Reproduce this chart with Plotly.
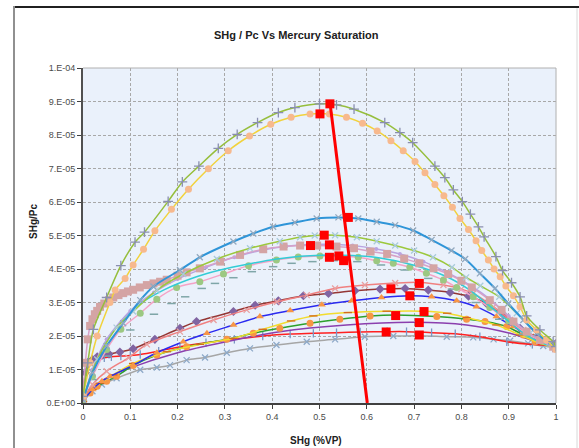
import numpy as np
import plotly.graph_objects as go

# ---------------- data (y in units of 1E-05) ----------------
UNIT = 1e-5

c1_x = [0, 0.01, 0.022, 0.05, 0.08, 0.11, 0.13, 0.18, 0.21, 0.245, 0.286, 0.326, 0.369, 0.413, 0.448, 0.5, 0.536, 0.573, 0.638, 0.67, 0.697, 0.744, 0.765, 0.783, 0.802, 0.819, 0.836, 0.848, 0.873, 0.887, 0.906, 0.924, 0.938, 0.966, 0.994, 1.0]
c1_y = [0.2, 1.2, 2.2, 3.15, 4.1, 4.8, 5.1, 6.02, 6.6, 7.07, 7.6, 8.02, 8.37, 8.67, 8.82, 8.93, 8.9, 8.77, 8.37, 8.07, 7.77, 7.07, 6.73, 6.36, 6.01, 5.64, 5.26, 4.96, 4.37, 3.95, 3.59, 3.17, 2.6, 2.18, 1.83, 1.68]

c2_x = [0, 0.015, 0.03, 0.057, 0.068, 0.089, 0.106, 0.128, 0.152, 0.187, 0.223, 0.265, 0.307, 0.352, 0.397, 0.44, 0.48, 0.521, 0.557, 0.591, 0.622, 0.651, 0.677, 0.702, 0.723, 0.744, 0.763, 0.781, 0.797, 0.815, 0.831, 0.843, 0.857, 0.869, 0.882, 0.894, 0.91, 0.924, 0.938, 0.959, 0.98, 1.0]
c2_y = [0.2, 1.2, 2.0, 3.0, 3.37, 3.72, 4.12, 4.59, 5.14, 5.78, 6.38, 6.99, 7.53, 7.97, 8.32, 8.53, 8.63, 8.63, 8.53, 8.35, 8.12, 7.83, 7.53, 7.21, 6.87, 6.52, 6.19, 5.84, 5.51, 5.18, 4.84, 4.55, 4.27, 4.0, 3.77, 3.49, 3.2, 2.87, 2.48, 2.18, 1.88, 1.6]

c3_x = [0, 0.02, 0.05, 0.085, 0.121, 0.149, 0.205, 0.247, 0.318, 0.36, 0.402, 0.448, 0.494, 0.54, 0.582, 0.621, 0.66, 0.698, 0.737, 0.779, 0.808, 0.839, 0.871, 0.899, 0.931, 0.959, 0.987, 1.0]
c3_y = [0.1, 0.9, 1.7, 2.38, 3.07, 3.48, 3.97, 4.35, 4.82, 5.06, 5.26, 5.39, 5.51, 5.54, 5.51, 5.41, 5.31, 5.15, 4.87, 4.55, 4.3, 3.87, 3.42, 2.97, 2.48, 2.08, 1.78, 1.68]

c4_x = [0, 0.03, 0.071, 0.106, 0.156, 0.212, 0.283, 0.353, 0.416, 0.459, 0.49, 0.533, 0.579, 0.621, 0.66, 0.7, 0.74, 0.78, 0.81, 0.84, 0.88, 0.917, 0.952, 0.987, 1.0]
c4_y = [0.1, 1.3, 2.25, 2.73, 3.37, 3.85, 4.3, 4.62, 4.83, 4.95, 5.0, 5.01, 4.95, 4.83, 4.7, 4.55, 4.35, 4.05, 3.75, 3.5, 3.17, 2.68, 2.18, 1.78, 1.65]

c5_x = [0, 0.005, 0.01, 0.015, 0.02, 0.025, 0.03, 0.036, 0.045, 0.055, 0.064, 0.075, 0.085, 0.095, 0.106, 0.12, 0.135, 0.149, 0.163, 0.177, 0.2, 0.219, 0.247, 0.29, 0.332, 0.381, 0.424, 0.459, 0.495, 0.536, 0.573, 0.608, 0.643, 0.679, 0.711, 0.741, 0.772, 0.8, 0.822, 0.86, 0.885, 0.91, 0.938, 0.966, 0.994, 1.0]
c5_y = [0.2, 1.2, 1.9, 2.3, 2.5, 2.65, 2.75, 2.87, 2.97, 3.07, 3.15, 3.22, 3.28, 3.33, 3.38, 3.45, 3.52, 3.57, 3.62, 3.68, 3.8, 3.9, 4.02, 4.22, 4.42, 4.59, 4.67, 4.7, 4.7, 4.67, 4.62, 4.52, 4.45, 4.31, 4.17, 4.02, 3.85, 3.65, 3.45, 3.07, 2.78, 2.43, 2.13, 1.88, 1.68, 1.63]

c5b_x = [0, 0.02, 0.05, 0.1, 0.15, 0.2, 0.26, 0.32, 0.38, 0.43, 0.48, 0.52, 0.57, 0.62, 0.67, 0.72, 0.77, 0.82, 0.86, 0.9, 0.94, 0.97, 1.0]
c5b_y = [0.1, 1.0, 1.9, 2.75, 3.3, 3.7, 4.05, 4.35, 4.57, 4.68, 4.73, 4.74, 4.7, 4.6, 4.45, 4.22, 3.9, 3.5, 3.1, 2.6, 2.1, 1.85, 1.63]

c6_x = [0, 0.02, 0.04, 0.071, 0.113, 0.17, 0.24, 0.29, 0.35, 0.41, 0.46, 0.52, 0.57, 0.628, 0.698, 0.769, 0.818, 0.853, 0.89, 0.93, 0.96, 1.0]
c6_y = [0.1, 0.9, 1.6, 2.28, 2.88, 3.37, 3.77, 3.97, 4.15, 4.3, 4.38, 4.42, 4.4, 4.33, 4.12, 3.77, 3.37, 2.97, 2.55, 2.1, 1.85, 1.65]

c7_x = [0, 0.02, 0.05, 0.08, 0.121, 0.156, 0.198, 0.247, 0.297, 0.35, 0.409, 0.455, 0.501, 0.543, 0.582, 0.621, 0.656, 0.691, 0.726, 0.762, 0.79, 0.825, 0.86, 0.9, 0.94, 0.97, 1.0]
c7_y = [0.1, 0.8, 1.6, 2.2, 2.68, 3.1, 3.45, 3.62, 3.85, 4.1, 4.27, 4.36, 4.39, 4.38, 4.35, 4.25, 4.17, 4.05, 3.87, 3.67, 3.45, 3.17, 2.85, 2.45, 2.05, 1.85, 1.68]

c8_x = [0.02, 0.05, 0.1, 0.15, 0.187, 0.216, 0.251, 0.279, 0.318, 0.357, 0.402, 0.441, 0.485, 0.53, 0.58, 0.63, 0.68, 0.73, 0.78, 0.83, 0.88, 0.93, 0.97]
c8_y = [0.7, 1.4, 2.18, 2.65, 2.97, 3.17, 3.42, 3.57, 3.74, 3.92, 4.07, 4.17, 4.22, 4.25, 4.22, 4.12, 3.97, 3.72, 3.4, 3.0, 2.5, 2.05, 1.8]

c9_x = [0, 0.02, 0.05, 0.096, 0.135, 0.205, 0.276, 0.346, 0.41, 0.473, 0.533, 0.596, 0.66, 0.712, 0.762, 0.8, 0.825, 0.868, 0.903, 0.931, 0.966, 1.0]
c9_y = [0.1, 0.55, 0.95, 1.35, 1.75, 2.13, 2.48, 2.78, 3.02, 3.22, 3.42, 3.52, 3.58, 3.6, 3.52, 3.4, 3.27, 2.87, 2.48, 2.18, 1.88, 1.7]

c10_x = [0, 0.005, 0.01, 0.02, 0.03, 0.04, 0.055, 0.078, 0.106, 0.152, 0.205, 0.24, 0.318, 0.364, 0.413, 0.466, 0.519, 0.575, 0.628, 0.681, 0.73, 0.776, 0.815, 0.853, 0.889, 0.924, 0.959, 1.0]
c10_y = [0.3, 0.9, 1.15, 1.3, 1.38, 1.42, 1.46, 1.52, 1.62, 1.9, 2.23, 2.43, 2.73, 2.92, 3.05, 3.2, 3.27, 3.35, 3.4, 3.42, 3.37, 3.3, 3.19, 2.97, 2.63, 2.23, 1.98, 1.78]

c11_x = [0, 0.02, 0.04, 0.057, 0.106, 0.156, 0.212, 0.262, 0.318, 0.374, 0.438, 0.505, 0.568, 0.631, 0.691, 0.737, 0.79, 0.832, 0.874, 0.91, 0.952, 0.98, 1.0]
c11_y = [0.05, 0.4, 0.65, 0.79, 1.13, 1.5, 1.83, 2.08, 2.33, 2.58, 2.76, 2.93, 3.05, 3.15, 3.2, 3.17, 3.05, 2.87, 2.58, 2.28, 1.98, 1.83, 1.75]

c12_x = [0, 0.02, 0.036, 0.064, 0.106, 0.177, 0.247, 0.318, 0.38, 0.44, 0.487, 0.56, 0.642, 0.72, 0.77, 0.811, 0.874, 0.924, 0.966, 1.0]
c12_y = [0.05, 0.4, 0.59, 0.84, 1.18, 1.53, 1.75, 1.93, 2.2, 2.45, 2.6, 2.7, 2.74, 2.74, 2.68, 2.55, 2.33, 2.03, 1.78, 1.65]

c13_x = [0, 0.015, 0.03, 0.05, 0.071, 0.106, 0.156, 0.219, 0.304, 0.36, 0.416, 0.48, 0.543, 0.607, 0.661, 0.748, 0.811, 0.85, 0.896, 0.931, 0.956, 1.0]
c13_y = [0.05, 0.3, 0.5, 0.65, 0.8, 1.12, 1.43, 1.68, 1.9, 2.08, 2.23, 2.38, 2.5, 2.6, 2.63, 2.58, 2.5, 2.43, 2.28, 2.03, 1.83, 1.68]

c14_x = [0, 0.02, 0.05, 0.1, 0.2, 0.3, 0.416, 0.557, 0.698, 0.811, 0.903, 0.966, 1.0]
c14_y = [0.05, 0.45, 0.75, 1.05, 1.5, 1.82, 2.13, 2.33, 2.41, 2.33, 2.08, 1.8, 1.75]

c15_x = [0, 0.005, 0.01, 0.02, 0.03, 0.045, 0.06, 0.08, 0.1, 0.121, 0.16, 0.205, 0.26, 0.32, 0.38, 0.438, 0.487, 0.536, 0.586, 0.643, 0.684, 0.737, 0.787, 0.839, 0.896, 0.95, 1.0]
c15_y = [0.2, 0.8, 1.05, 1.22, 1.3, 1.35, 1.38, 1.4, 1.42, 1.45, 1.55, 1.68, 1.8, 1.9, 2.0, 2.06, 2.08, 2.1, 2.12, 2.13, 2.13, 2.1, 2.07, 1.98, 1.83, 1.75, 1.72]

c16_x = [0, 0.02, 0.04, 0.071, 0.121, 0.156, 0.184, 0.219, 0.258, 0.304, 0.353, 0.409, 0.473, 0.533, 0.596, 0.656, 0.711, 0.769, 0.825, 0.868, 0.903, 0.941, 0.973, 1.0]
c16_y = [0.05, 0.35, 0.55, 0.74, 0.99, 1.06, 1.13, 1.28, 1.36, 1.5, 1.63, 1.73, 1.83, 1.9, 1.98, 2.0, 2.01, 1.98, 1.96, 1.9, 1.86, 1.78, 1.7, 1.65]

peak_x = [0.501, 0.522, 0.561, 0.510, 0.481, 0.521, 0.521, 0.541, 0.551, 0.711, 0.651, 0.691, 0.721, 0.661, 0.711, 0.641, 0.711]
peak_y = [8.63, 8.93, 5.54, 5.01, 4.70, 4.72, 4.35, 4.39, 4.25, 3.57, 3.41, 3.20, 2.73, 2.61, 2.40, 2.12, 2.03]

trend_x = [0.522, 0.601]
trend_y = [8.98, 0.0]

x_ticks = [0, 0.1, 0.2, 0.3, 0.4, 0.5, 0.6, 0.7, 0.8, 0.9, 1]
x_tick_text = ["0", "0.1", "0.2", "0.3", "0.4", "0.5", "0.6", "0.7", "0.8", "0.9", "1"]
y_ticks = [0, 1, 2, 3, 4, 5, 6, 7, 8, 9, 10]
y_tick_text = ["0.E+00", "1.E-05", "2.E-05", "3.E-05", "4.E-05", "5.E-05",
               "6.E-05", "7.E-05", "8.E-05", "9.E-05", "1.E-04"]

# ---------------- figure ----------------
W, H = 579, 448
L, R, T, B = 83, 23, 68, 45
PW, PH = W - L - R, H - T - B


def px(x):
    return (x - L) / PW


def py(y):
    return (H - B - y) / PH


fig = go.Figure()


def curve(xs, ys, lc, mc=None, sym=None, ms=6, lw=1.5, thin=False, mode="lines+markers"):
    yy = np.array(ys) * UNIT
    marker = dict(size=ms, color=mc)
    if sym is not None:
        marker["symbol"] = sym
    if thin:
        marker["line"] = dict(color=mc, width=1.3)
    if sym is None:
        mode = "lines"
    fig.add_trace(go.Scatter(x=xs, y=yy, mode=mode,
                             line=dict(color=lc, width=lw, shape="spline", smoothing=0.8),
                             marker=marker, showlegend=False, hoverinfo="skip"))


curve(c16_x, c16_y, "#A6A6A6", "#8EA9C8", "x-thin", 6, thin=True)
curve(c15_x, c15_y, "#FF2020", "#7A96C4", "line-ns", 6, thin=True)
curve(c14_x, c14_y, "#8B3FAE")
curve(c13_x, c13_y, "#2CA02C", "#F79646", "circle", 7)
curve(c12_x, c12_y, "#F2DC2E", "#D2691E", "line-ew", 6, thin=True)
curve(c11_x, c11_y, "#2A2AF0", "#F79646", "triangle-up", 7)
curve(c10_x, c10_y, "#943634", "#8064A2", "diamond", 7)
curve(c9_x, c9_y, "#F08080", "#E8A0A0", "x-thin", 6, thin=True)
fig.add_trace(go.Scatter(x=c8_x, y=np.array(c8_y) * UNIT, mode="markers",
                         marker=dict(symbol="line-ew", size=6, color="#7FA6A8",
                                     line=dict(color="#7FA6A8", width=1.5)),
                         showlegend=False, hoverinfo="skip"))
curve(c7_x, c7_y, "#F4A3C6", "#9CC882", "circle", 7)
curve(c6_x, c6_y, "#33CCD6")
curve(c5b_x, c5b_y, "#B9A3E0", "#B9A3E0", "circle", 4)
curve(c5_x, c5_y, "#D7A1C8", "#D4A4A4", "square", 8)
curve(c4_x, c4_y, "#9CC83C", "#A9CBDB", "x-thin", 6, thin=True)
curve(c3_x, c3_y, "#2F95D8", "#93A9BF", "x-thin", 6, lw=2, thin=True)
curve(c2_x, c2_y, "#F1D23C", "#F7B98E", "circle", 7)
curve(c1_x, c1_y, "#96BE3C", "#8A8FB0", "cross-thin", 7, thin=True)

fig.add_trace(go.Scatter(x=trend_x, y=np.array(trend_y) * UNIT, mode="lines",
                         line=dict(color="#FF0000", width=3),
                         showlegend=False, hoverinfo="skip"))
fig.add_trace(go.Scatter(x=peak_x, y=np.array(peak_y) * UNIT, mode="markers",
                         marker=dict(symbol="square", size=9, color="#FF0000"),
                         showlegend=False, hoverinfo="skip"))

tick_font = dict(family="Liberation Sans, Arial", size=9, color="#4A4A4A")

fig.update_xaxes(range=[0, 1], tickvals=x_ticks, ticktext=x_tick_text,
                 showgrid=True, gridcolor="#A8A8A8", griddash="3px,2px", gridwidth=1,
                 showline=True, linecolor="#404040", linewidth=2,
                 ticks="outside", ticklen=4, tickcolor="#404040",
                 tickfont=tick_font, zeroline=False, fixedrange=True)
fig.update_yaxes(range=[0, 10 * UNIT], tickvals=np.array(y_ticks) * UNIT, ticktext=y_tick_text,
                 showgrid=True, gridcolor="#A8A8A8", griddash="3px,2px", gridwidth=1,
                 showline=True, linecolor="#505050", linewidth=2,
                 ticks="outside", ticklen=4, tickcolor="#404040",
                 tickfont=tick_font, zeroline=False, fixedrange=True)

shapes = [
    dict(type="line", xref="paper", yref="paper", x0=0, x1=1, y0=1, y1=1,
         line=dict(color="#B0B0B0", width=1)),
    dict(type="line", xref="paper", yref="paper", x0=1, x1=1, y0=0, y1=1,
         line=dict(color="#B0B0B0", width=1)),
    dict(type="line", xref="paper", yref="paper", x0=px(14), x1=px(579), y0=py(7), y1=py(7),
         line=dict(color="#202020", width=2)),
    dict(type="line", xref="paper", yref="paper", x0=px(14), x1=px(14), y0=py(6), y1=py(460),
         line=dict(color="#909090", width=2)),
    dict(type="line", xref="paper", yref="paper", x0=px(577), x1=px(577), y0=py(8), y1=py(460),
         line=dict(color="#D8D8D8", width=1)),
]

annotations = [
    dict(text="<b>SHg / Pc Vs Mercury Saturation</b>", xref="paper", yref="paper",
         x=px(296), y=py(35), showarrow=False, xanchor="center", yanchor="middle",
         font=dict(family="Liberation Sans, Arial", size=11, color="#202020")),
    dict(text="<b>SHg/Pc</b>", xref="paper", yref="paper", x=px(33), y=py(222),
         textangle=-90, showarrow=False, xanchor="center", yanchor="middle",
         font=dict(family="Liberation Sans, Arial", size=10, color="#202020")),
    dict(text="<b>SHg (%VP)</b>", xref="paper", yref="paper", x=px(316), y=py(440),
         showarrow=False, xanchor="center", yanchor="middle",
         font=dict(family="Liberation Sans, Arial", size=10, color="#202020")),
]

fig.update_layout(width=W, height=H, margin=dict(l=L, r=R, t=T, b=B),
                  paper_bgcolor="white", plot_bgcolor="#EAF1FB",
                  shapes=shapes, annotations=annotations, showlegend=False)

fig.write_html("out.html", config={"displayModeBar": False})
